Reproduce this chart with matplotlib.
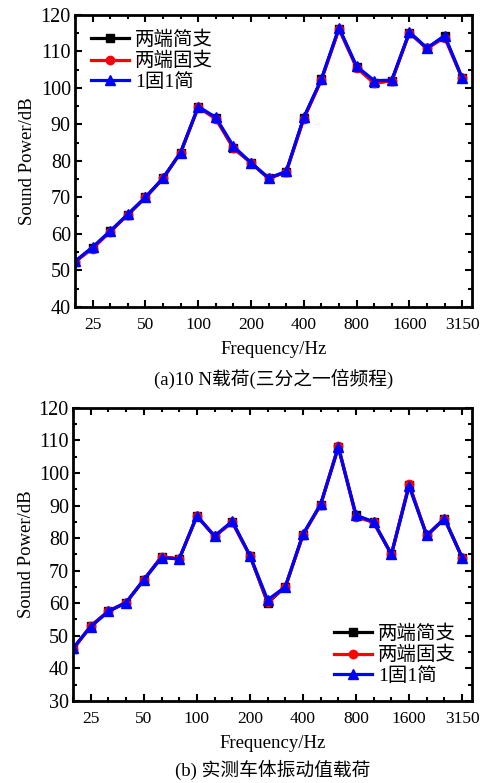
import matplotlib
matplotlib.use("Agg")
import matplotlib.pyplot as plt
import numpy as np

plt.rcParams['font.family'] = ['Liberation Serif', 'Noto Sans CJK SC']

# third-octave band centres (Hz)
bands = ['20', '25', '31.5', '40', '50', '63', '80', '100', '125', '160', '200', '250',
         '315', '400', '500', '630', '800', '1000', '1250', '1600', '2000', '2500', '3150']
tick_labels = ['25', '50', '100', '200', '400', '800', '1600', '3150']

series_names = ['两端简支', '两端固支', '1固1简']
colors = ['black', 'red', 'blue']
markers = ['s', 'o', '^']
msizes = [5.5, 6, 7.5]

# (a) 10 N load
a_simple = [52.4, 56.2, 60.7, 65.3, 70.0, 75.2, 82.3, 94.7, 91.7, 83.5, 79.5, 75.2,
            77.0, 91.8, 102.3, 116.2, 105.7, 101.3, 102.0, 115.1, 110.8, 114.2, 102.6]
a_fixed = [52.4, 56.0, 60.6, 65.3, 70.0, 75.2, 82.3, 94.7, 91.5, 83.5, 79.5, 75.2,
           77.0, 91.5, 102.2, 116.2, 105.5, 101.3, 102.0, 115.1, 110.8, 113.8, 102.6]
a_mixed = [52.5, 56.4, 60.8, 65.4, 70.0, 75.3, 82.3, 94.9, 91.9, 84.0, 79.5, 75.3,
           77.1, 91.9, 102.4, 116.5, 105.9, 102.0, 102.1, 115.3, 110.9, 114.3, 102.7]

# (b) measured car-body vibration load
b_simple = [46.0, 53.0, 57.5, 60.2, 67.2, 74.2, 73.6, 86.8, 80.6, 85.0, 74.6, 60.1,
            65.0, 81.0, 90.3, 108.0, 87.0, 84.8, 75.0, 96.4, 80.8, 86.0, 74.0]
b_fixed = [45.8, 53.0, 57.6, 60.2, 67.2, 74.3, 73.6, 86.8, 80.6, 84.8, 74.6, 60.4,
           65.0, 81.0, 90.3, 108.3, 86.5, 84.8, 75.0, 96.6, 80.8, 86.0, 74.0]
b_mixed = [46.2, 52.8, 57.5, 60.2, 67.2, 74.0, 73.6, 86.8, 80.6, 85.2, 74.6, 61.0,
           65.0, 81.2, 90.4, 107.9, 87.0, 85.0, 75.0, 96.0, 80.8, 86.0, 74.0]

fig = plt.figure(figsize=(4.81, 7.83), dpi=100)
ax_a = fig.add_axes([0.156, 0.608, 0.825, 0.373])
ax_b = fig.add_axes([0.152, 0.105, 0.829, 0.374])

x = np.arange(len(bands))


def draw(ax, data, ylim, ystep, legend_loc, caption, leg_anchor):
    for vals, name, c, m, ms in zip(data, series_names, colors, markers, msizes):
        ax.plot(x, vals, color=c, marker=m, markersize=ms, linewidth=2.3,
                label=name)
    ax.set_xlim(0, 22.55)
    ax.set_ylim(*ylim)
    ax.set_yticks(np.arange(ylim[0], ylim[1] + 1, ystep))
    ax.set_yticks(np.arange(ylim[0] + ystep / 2, ylim[1], ystep), minor=True)
    major = [bands.index(t) for t in tick_labels]
    ax.set_xticks(major)
    ax.set_xticklabels(tick_labels)
    ax.set_xticks([i for i in x if i not in major], minor=True)
    ax.tick_params(axis='both', which='both', direction='in', top=True, right=True,
                   width=1.5)
    ax.tick_params(axis='both', which='major', length=5)
    ax.tick_params(axis='both', which='minor', length=3)
    ax.tick_params(axis='y', labelsize=14.5, pad=3)
    ax.tick_params(axis='x', labelsize=12.5, pad=7)
    for sp in ax.spines.values():
        sp.set_linewidth(2)
    ax.set_xlabel('Frequency/Hz', fontsize=13.5, labelpad=6)
    ax.set_ylabel('Sound Power/dB', fontsize=13.5, labelpad=3)
    ax.legend(loc=legend_loc, bbox_to_anchor=leg_anchor, frameon=False,
              fontsize=14, handlelength=2.0, handletextpad=0.3,
              labelspacing=0.15, borderaxespad=0.4)
    ax.text(0.5, caption[1], caption[0], transform=ax.transAxes, ha='center',
            va='center', fontsize=13.5)


draw(ax_a, [a_simple, a_fixed, a_mixed], (40, 120), 10, 'upper left',
     ('(a)10 N载荷(三分之一倍频程)', -0.245), (0.0, 1.0))
draw(ax_b, [b_simple, b_fixed, b_mixed], (30, 120), 10, 'lower right',
     ('(b) 实测车体振动值载荷', -0.235), (1.0, 0.0))

fig.savefig('out.png', dpi=100)
